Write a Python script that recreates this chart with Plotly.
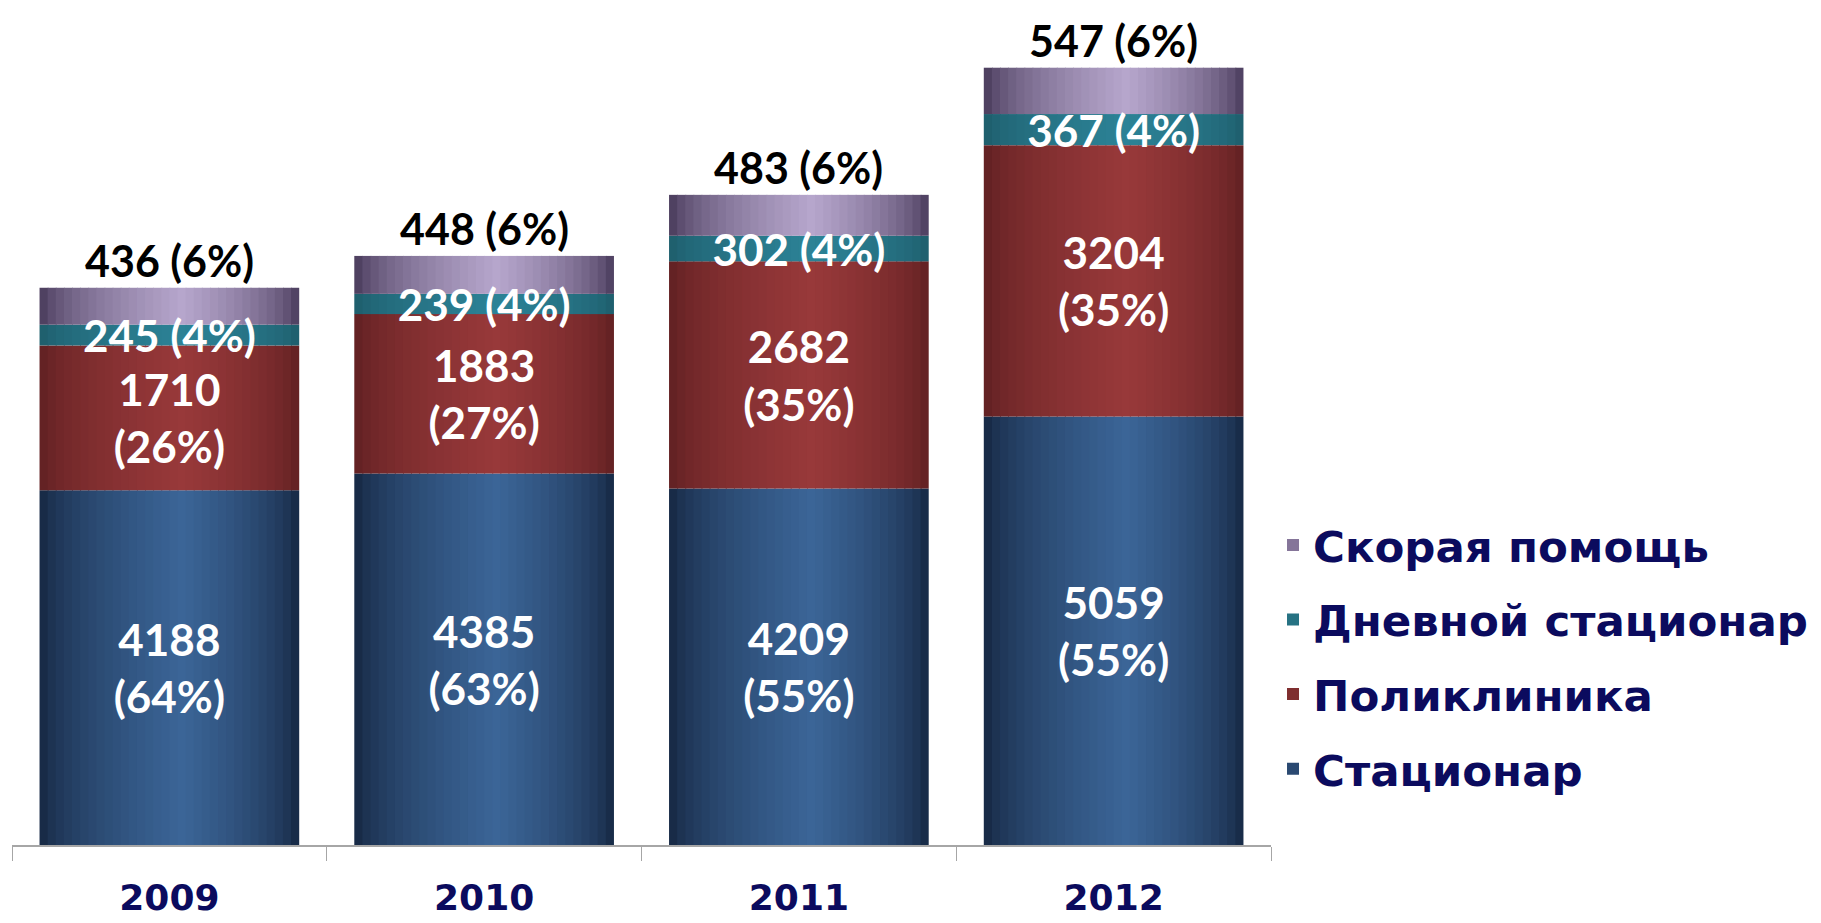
import numpy as np
import plotly.graph_objects as go

years = ["2009", "2010", "2011", "2012"]
series_names = ["Стационар", "Поликлиника", "Дневной стационар", "Скорая помощь"]
stacionar = [4188, 4385, 4209, 5059]
poliklinika = [1710, 1883, 2682, 3204]
dnevnoy = [245, 239, 302, 367]
skoraya = [436, 448, 483, 547]
pct_stacionar = [64, 63, 55, 55]
pct_poliklinika = [26, 27, 35, 35]
pct_dnevnoy = [4, 4, 4, 4]
pct_skoraya = [6, 6, 6, 6]

values = [stacionar, poliklinika, dnevnoy, skoraya]
pcts = [pct_stacionar, pct_poliklinika, pct_dnevnoy, pct_skoraya]

# gradient colours (edge, centre) per series
edge_cols = [(18, 33, 58), (92, 30, 32), (29, 90, 104), (62, 48, 80)]
centre_cols = [(59, 101, 151), (152, 57, 58), (44, 130, 150), (182, 166, 204)]

W = 0.825
S = 32
PEAK = 0.55

def shade(t, e, c):
    s = t / PEAK if t < PEAK else (1 - t) / (1 - PEAK)
    b = max(s, 0) ** 0.55
    r = [round(e[k] + (c[k] - e[k]) * b) for k in range(3)]
    return f"rgb({r[0]},{r[1]},{r[2]})", b

fig = go.Figure()
label_font = dict(family="Lato", size=44, color="white", weight="bold")

bases_list = []
bases = np.zeros(len(years))
for vals in values:
    bases_list.append(bases.copy())
    bases = bases + np.array(vals, dtype=float)
totals = bases

# gradient strips
for si, (name, vals) in enumerate(zip(series_names, values)):
    vals = np.array(vals, dtype=float)
    cols, brights = [], []
    for i in range(S):
        col, b = shade((i + 0.5) / S, edge_cols[si], centre_cols[si])
        cols.append(col)
        brights.append(b)
    leg_i = int(np.argmin([abs(b - 0.6) for b in brights]))
    for i in range(S):
        wid = W / S + (0.003 if i < S - 1 else 0)
        fig.add_trace(go.Bar(
            x=years, y=vals, base=bases_list[si],
            offset=-W / 2 + i * W / S, width=wid,
            marker=dict(color=cols[i], line=dict(width=0)),
            name=name, legendgroup=name, legendrank=10 - si,
            showlegend=(i == leg_i), hoverinfo="skip",
        ))

# text traces on top
for si in range(3):
    vals = np.array(values[si], dtype=float)
    if si < 2:
        texts = [f"{v}<br>({p}%)" for v, p in zip(values[si], pcts[si])]
    else:
        texts = [f"{v} ({p}%)" for v, p in zip(values[si], pcts[si])]
    fig.add_trace(go.Bar(
        x=years, y=vals, base=bases_list[si], width=W, offset=-W / 2,
        marker=dict(color="rgba(0,0,0,0)", line=dict(width=0)),
        text=texts, textposition="inside", insidetextanchor="middle",
        constraintext="none", textangle=0, insidetextfont=label_font,
        showlegend=False, hoverinfo="skip",
    ))

# labels for Скорая помощь above the bars (category index positions)
for ci, (tot, v, p) in enumerate(zip(totals, skoraya, pct_skoraya)):
    fig.add_annotation(x=ci, y=float(tot), xref="x", yref="y",
                       text=f"{v} ({p}%)", showarrow=False,
                       yanchor="bottom", yshift=1, borderpad=0,
                       font=dict(family="Lato", size=43, color="black", weight="bold"))

fig.update_layout(
    width=1813, height=915,
    barmode="overlay",
    plot_bgcolor="white", paper_bgcolor="white",
    margin=dict(l=4, r=550, t=0, b=78, autoexpand=False),
    showlegend=True,
    legend=dict(
        x=1.0016, xanchor="left", y=0.40, yanchor="top",
        traceorder="grouped", tracegroupgap=15,
        font=dict(family="DejaVu Sans", size=43.5, color="#0b0b5e", weight="bold"),
        bgcolor="rgba(0,0,0,0)",
    ),
    xaxis=dict(
        type="category", range=[-0.5, 3.5], automargin=False,
        showline=True, linecolor="#a6a6a6", linewidth=2,
        ticks="outside", tickson="boundaries", ticklen=14,
        tickcolor="#a6a6a6", tickwidth=1,
        ticklabelstandoff=20,
        tickfont=dict(family="DejaVu Sans", size=36, color="#0b0b5e", weight="bold"),
        showgrid=False, zeroline=False,
    ),
    yaxis=dict(visible=False, range=[0, 9882], automargin=False,
               showgrid=False, zeroline=False),
)

fig.write_html("out.html")
